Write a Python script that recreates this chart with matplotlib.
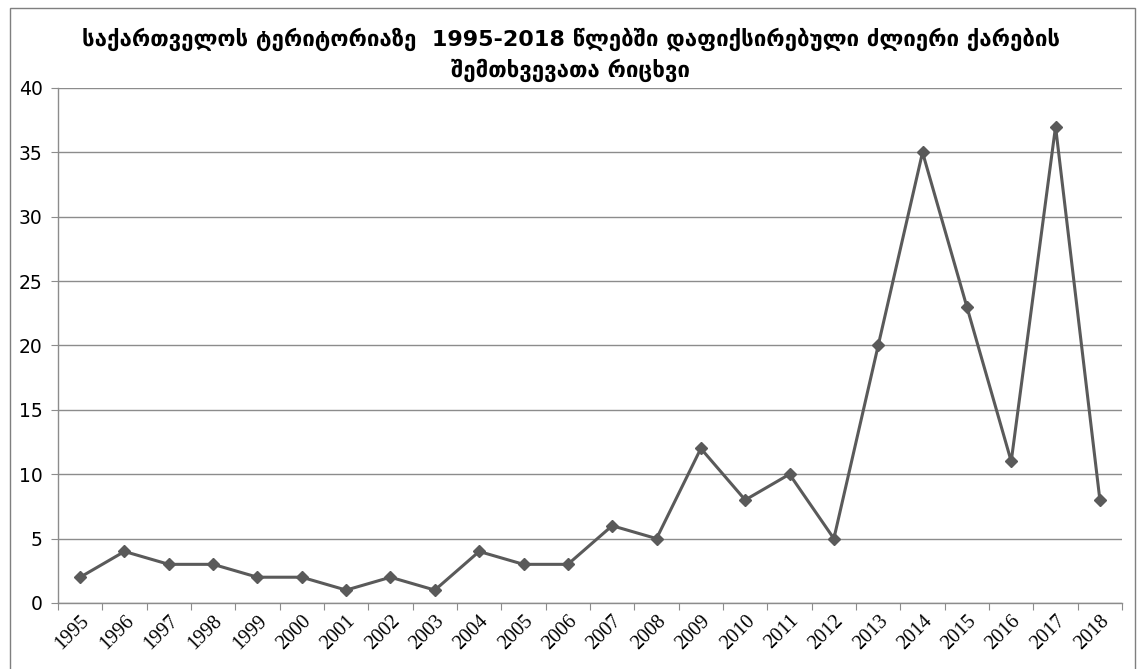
import numpy as np
import matplotlib.pyplot as plt
from matplotlib.patches import Rectangle

# მონაცემები
years = [str(y) for y in range(1995, 2019)]
counts = [2, 4, 3, 3, 2, 2, 1, 2, 1, 4, 3, 3, 6, 5, 12, 8, 10, 5, 20, 35, 23, 11, 37, 8]
title = 'საქართველოს ტერიტორიაზე  1995-2018 წლებში დაფიქსირებული ძლიერი ქარების\nშემთხვევათა რიცხვი'

fig = plt.figure(figsize=(11.41, 6.69), dpi=100)
ax = fig.add_axes([0.0508, 0.0987, 0.9326, 0.7698])

x = np.arange(len(years))
ax.plot(x, counts, color='#5a5a5a', linewidth=2.2, marker='D', markersize=6.5)

ax.set_xlim(-0.5, len(years) - 0.5)
ax.set_ylim(0, 40)
ax.set_yticks(range(0, 41, 5))
ax.yaxis.grid(True, color='#8c8c8c', linewidth=1)
ax.set_axisbelow(True)

# x ღერძი: ტიკები კატეგორიებს შორის
ax.set_xticks(np.arange(-0.5, len(years), 1.0))
ax.set_xticklabels([])
ax.set_xticks(x, minor=True)
ax.set_xticklabels(years, minor=True)
for lbl in ax.get_xticklabels(minor=True):
    lbl.set_rotation(45)
    lbl.set_ha('right')
    lbl.set_rotation_mode('anchor')
    lbl.set_fontsize(14.5)
    lbl.set_fontfamily('Liberation Serif')
ax.tick_params(axis='x', which='major', length=5, color='#8c8c8c', direction='out')
ax.tick_params(axis='x', which='minor', length=0, pad=6)
ax.tick_params(axis='y', length=5, color='#8c8c8c', labelsize=13.5, pad=6)

for s in ['top', 'right']:
    ax.spines[s].set_visible(False)
for s in ['left', 'bottom']:
    ax.spines[s].set_color('#8c8c8c')
    ax.spines[s].set_linewidth(1)

fig.text(0.5, 0.918, title, ha='center', va='center', fontsize=16, fontweight='bold',
         linespacing=1.45)

# ჩარჩო
fig.patches.append(Rectangle((0.009, -0.01), 0.986, 0.998, transform=fig.transFigure,
                             fill=False, edgecolor='#7f7f7f', linewidth=1))

plt.savefig('out.png', dpi=100)
